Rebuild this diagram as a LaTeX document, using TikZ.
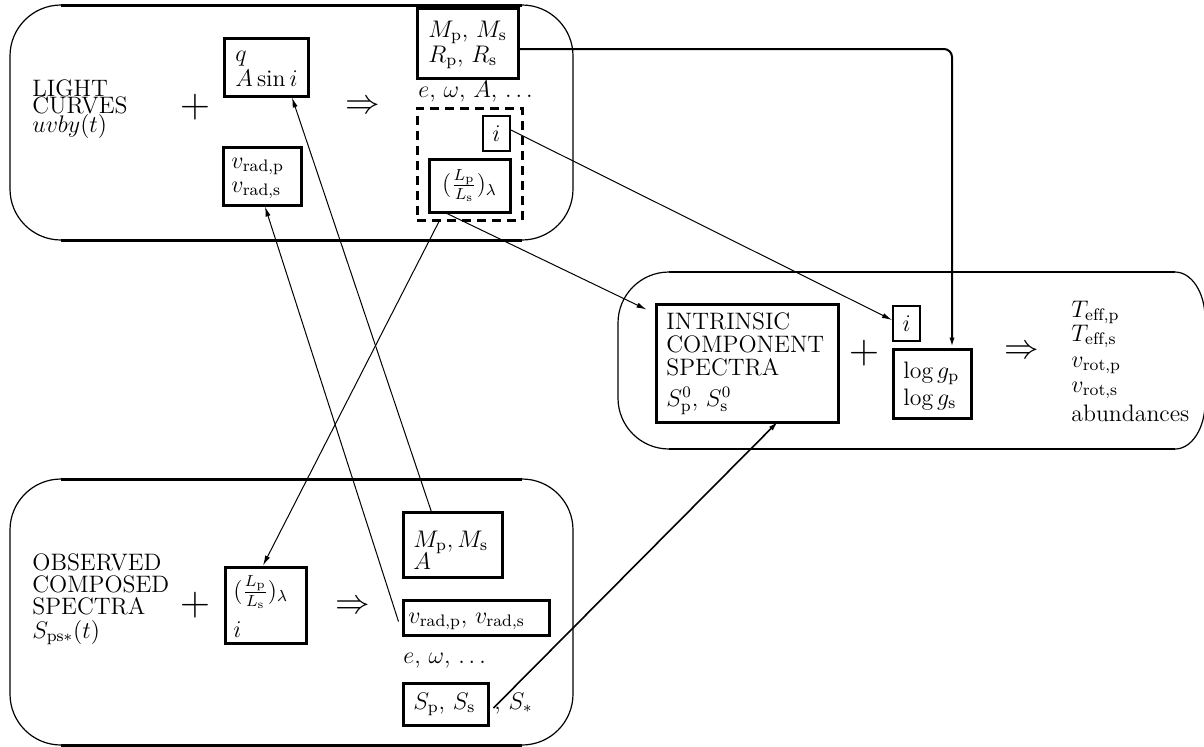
\documentclass[tikz,border=0pt]{standalone}
\usepackage{fontspec}
\usetikzlibrary{calc,arrows.meta}
\newcommand\dfont{\fontsize{11.9}{14}\selectfont}
\begin{document}
\begin{tikzpicture}[x=0.5pt,y=-0.5pt,
  t/.style={anchor=base west, inner sep=0pt, font=\dfont},
  plus/.style={inner sep=0pt, font=\fontsize{19.5}{20}\selectfont},
  imp/.style={inner sep=0pt, font=\fontsize{19}{20}\selectfont},
  bx/.style={draw, line width=1.5pt, inner sep=0pt, font=\dfont},
  sbx/.style={draw, line width=1pt, inner sep=0pt, font=\dfont},
  dbx/.style={draw, line width=1.5pt, dash pattern=on 4.5pt off 3pt, inner sep=0pt},
  conn/.style={line width=0.5pt, -{Latex[length=5pt,width=2.6pt]}},
  edge/.style={line width=1.5pt},
  side/.style={line width=0.6pt},
]
\useasboundingbox (0,0) rectangle (1204,746);

% ---------- big rounded frames ----------
\draw[side, rounded corners=25.5pt] (10,5) rectangle (573,240);
\draw[edge] (61,5) -- (522,5);
\draw[edge] (61,240) -- (522,240);

\draw[side, rounded corners=25.5pt] (10,479) rectangle (573,745);
\draw[edge] (61,479) -- (522,479);
\draw[edge] (61,745) -- (522,745);

\draw[side] (669,272) -- (1175,272)
  .. controls (1191.6,272) and (1205,292.6) .. (1205,318)
  -- (1205,403)
  .. controls (1205,428.4) and (1191.6,449) .. (1175,449)
  -- (669,449)
  .. controls (640.8,449) and (618,426.2) .. (618,398)
  -- (618,323)
  .. controls (618,294.8) and (640.8,272) .. (669,272);
\draw[line width=1pt] (669,272) -- (1175,272);
\draw[line width=1pt] (669,449) -- (1175,449);

% ---------- top frame: light curves ----------
\node[t] (lc1) at (32,96) {LIGHT};
\node[t] (lc2) at (32,113.5) {CURVES};
\node[t] (lc3) at (32,132) {$uvby(t)$};
\node[plus] (p1) at (195,107) {$+$};

\node[bx, minimum width=42pt, minimum height=29pt] (qb) at (266,67) {};
\node[t] (qt1) at (235,61) {$q$};
\node[t] (qt2) at (235,86) {$A\sin i$};

\node[bx, minimum width=39pt, minimum height=29pt] (vr1) at (262,176) {};
\node[t] (vt1) at (231,168) {$v_{\mathrm{rad,p}}$};
\node[t] (vt2) at (231,192) {$v_{\mathrm{rad,s}}$};

\node[imp] (a1) at (363,107) {$\Rightarrow$};

\node[bx, minimum width=50.5pt, minimum height=35pt] (mr) at (467.5,43) {};
\node[t] (mt1) at (428,37) {$M_{\mathrm p}$, $M_{\mathrm s}$};
\node[t] (mt2) at (428,62) {$R_{\mathrm p}$, $R_{\mathrm s}$};
\node[t] (eoa) at (418,97) {$e$, $\omega$, $A$, $\ldots$};

\node[dbx, minimum width=52.5pt, minimum height=56pt] (dsh) at (469.5,164) {};
\node[sbx, minimum width=13.5pt, minimum height=17.5pt] (i1) at (496.5,133.5) {$i$};
\node[bx, minimum width=40.5pt, minimum height=26.5pt] (ll1) at (469.5,185.5) {$(\frac{L_{\mathrm p}}{L_{\mathrm s}})_\lambda$};

% ---------- right frame: intrinsic spectra ----------
\node[bx, minimum width=91pt, minimum height=59pt] (intr) at (747,363) {};
\node[t] (it1) at (666,329) {INTRINSIC};
\node[t] (it2) at (666,352) {COMPONENT};
\node[t] (it3) at (666,375) {SPECTRA};
\node[t] (it4) at (666,406) {$S^0_{\mathrm p}$, $S^0_{\mathrm s}$};
\node[plus] (p3) at (864,353) {$+$};

\node[sbx, minimum width=13.5pt, minimum height=17.5pt] (i2) at (906.5,323.5) {$i$};
\node[bx, minimum width=39pt, minimum height=34.5pt] (logg) at (932,383.5) {};
\node[t] (gt1) at (903,378) {$\log g_{\mathrm p}$};
\node[t] (gt2) at (903,405) {$\log g_{\mathrm s}$};

\node[imp] (a3) at (1022,352) {$\Rightarrow$};
\node[t] (r1) at (1071,317) {$T_{\mathrm{eff,p}}$};
\node[t] (r2) at (1071,341) {$T_{\mathrm{eff,s}}$};
\node[t] (r3) at (1071,367) {$v_{\mathrm{rot,p}}$};
\node[t] (r4) at (1071,392) {$v_{\mathrm{rot,s}}$};
\node[t] (r5) at (1071,421) {abundances};

% ---------- bottom frame: observed spectra ----------
\node[t] (ob1) at (32,570) {OBSERVED};
\node[t] (ob2) at (32,592) {COMPOSED};
\node[t] (ob3) at (32,614) {SPECTRA};
\node[t] (ob4) at (32,638) {$S_{\mathrm{ps}*}(t)$};
\node[plus] (p2) at (195,605) {$+$};

\node[bx, minimum width=40.5pt, minimum height=38pt] (ll2) at (265.5,605) {};
\node[t] (lt1) at (233,598) {$(\frac{L_{\mathrm p}}{L_{\mathrm s}})_\lambda$};
\node[t] (lt2) at (233,637) {$i$};

\node[imp] (a2) at (353,607) {$\Rightarrow$};

\node[bx, minimum width=49.5pt, minimum height=32.5pt] (m2) at (452.5,544.5) {};
\node[t] (m2t1) at (413,547) {$M_{\mathrm p}, M_{\mathrm s}$};
\node[t] (m2t2) at (413,569) {$A$};

\node[bx, minimum width=73pt, minimum height=17.5pt] (vr2) at (476,617.5) {};
\node[t] (v2t) at (408,623) {$v_{\mathrm{rad,p}}$, $v_{\mathrm{rad,s}}$};

\node[t] (eo2) at (403,663) {$e$, $\omega$, $\ldots$};

\node[bx, minimum width=42.5pt, minimum height=21pt] (sps) at (445.5,704) {};
\node[t] (st1) at (413,709) {$S_{\mathrm p}$, $S_{\mathrm s}$};
\node[t] (st2) at (494,709) {, $S_*$};

% ---------- connectors ----------
\draw[conn] ($(m2.north)+(-20.5,3)$) -- ($(qb.south)+(26,0)$);
\draw[conn] ($(vr2.west)+(-3,4)$) -- ($(vr1.south)+(3,0)$);
\draw[conn] ($(dsh.south)+(-30.5,0)$) -- ($(ll2.north)+(-2.5,0)$);
\draw[conn] ($(ll1.south)+(-22.5,0)$) -- ($(intr.north west)+(-8,7)$);
\draw[conn] ($(i1.east)+(0,-3.5)$) -- ($(i2.west)+(0,-3.5)$);
\draw[conn, line width=1pt, rounded corners=4pt] ($(mr.east)+(0,6)$) -| ($(logg.north)+(20,0)$);
\draw[conn, line width=0.8pt] ($(sps.east)+(4,4)$) -- ($(intr.south)+(31,-2)$);
\end{tikzpicture}
\end{document}
